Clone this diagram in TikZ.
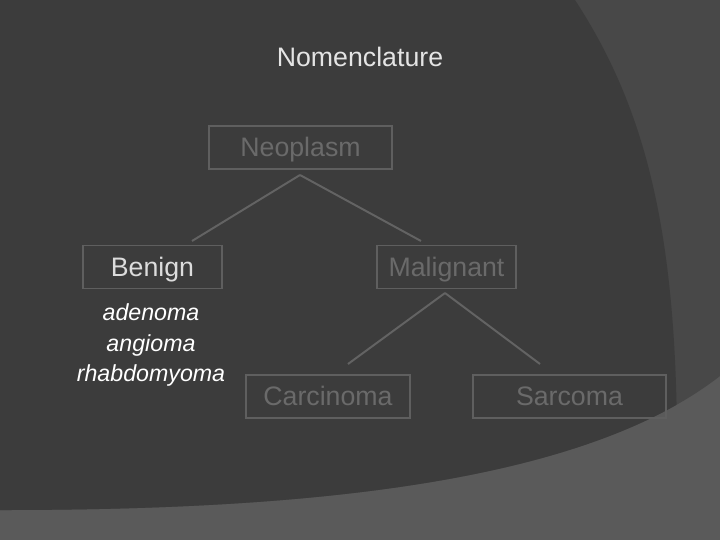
\documentclass[tikz,border=0pt]{standalone}
\usepackage{fontspec}
\setmainfont{Liberation Sans}
\definecolor{darkbg}{HTML}{3C3C3C}
\definecolor{midbg}{HTML}{484848}
\definecolor{lightbg}{HTML}{5A5A5A}
\definecolor{boxline}{HTML}{5F5F5F}
\definecolor{dimtext}{HTML}{6A6A6A}
\definecolor{wire}{HTML}{636363}

\begin{document}
\begin{tikzpicture}[x=0.025cm, y=-0.025cm, every node/.style={rectangle, draw=boxline, line width=1pt, inner sep=0pt, minimum height=1.08cm, text height=17pt, text depth=4.2pt, text=dimtext, font=\fontsize{19}{22}\selectfont}, every edge/.style={draw=wire, line width=1.4pt}]
				% background
				\fill[lightbg] (0,0) rectangle (720,540);
				\fill[midbg] (0,0) -- (720,0) -- (720,376) .. controls (580,485) and (300,510) .. (0,510) -- cycle;
				\begin{scope}
				\clip (0,0) -- (720,0) -- (720,376) .. controls (580,485) and (300,510) .. (0,510) -- cycle;
				\fill[darkbg] (0,0) -- (575,0) .. controls (660,130) and (685,280) .. (675,560) -- (0,560) -- cycle;
				\end{scope}
				
				\node[draw=none, text height=, text depth=, text={rgb,255:red,228;green,228;blue,228}] (title) at (360,57){Nomenclature};
				
				\node[minimum width=4.575cm] (neo) at (300.5,147.5){Neoplasm};
				\node[minimum width=3.475cm, text={rgb,255:red,220;green,220;blue,220}] (ben) at (152.5,267){Benign};
				\node[minimum width=3.475cm] (mal) at (446.5,267){Malignant};
				\node[minimum width=4.1cm] (car) at (328,396.5){Carcinoma};
				\node[minimum width=4.825cm] (sar) at (569.5,396.5){Sarcoma};
				
				\node[draw=none, align=center, text height=, text depth=, text=white, font=\fontsize{16.5}{22}\selectfont\itshape] (list) at (151,345){adenoma\\angioma\\rhabdomyoma};
				
				\coordinate (neo-s) at (300,175);
				\coordinate (ben-n) at (192,241);
				\coordinate (mal-n) at (421,241);
				\coordinate (mal-s) at (445,293);
				\coordinate (car-n) at (348,364);
				\coordinate (sar-n) at (540,364);
				
				\path (neo-s) edge (ben-n);
				\path (neo-s) edge (mal-n);
				\path (mal-s) edge (car-n);
				\path (mal-s) edge (sar-n);
				\end{tikzpicture}
\end{document}
